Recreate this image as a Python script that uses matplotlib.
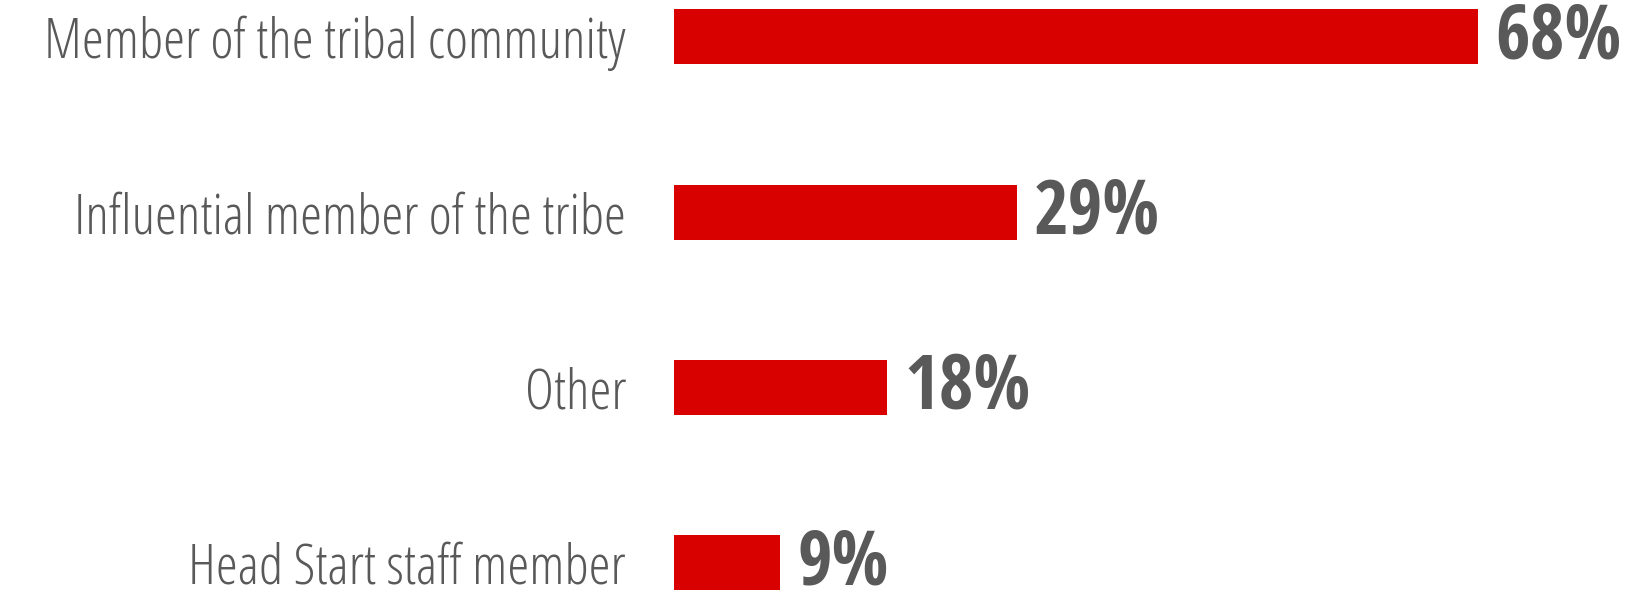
import matplotlib.pyplot as plt
from matplotlib import font_manager
from matplotlib.font_manager import FontProperties

categories = ['Member of the tribal community', 'Influential member of the tribe',
              'Other', 'Head Start staff member']
values = [68, 29, 18, 9]


def find_font(filename):
    for f in font_manager.fontManager.ttflist:
        if f.fname.endswith(filename):
            return f.fname
    return None


def main():
    light = find_font('OpenSans-CondLight.ttf')
    bold = find_font('OpenSans-CondBold.ttf')
    label_fp = FontProperties(fname=light, size=40) if light else FontProperties(family='DejaVu Sans', stretch='condensed', size=32)
    value_fp = FontProperties(fname=bold, size=54) if bold else FontProperties(family='DejaVu Sans', stretch='condensed', weight='bold', size=46)

    fig = plt.figure(figsize=(16.25, 5.9), dpi=100)
    ax = fig.add_axes([674 / 1625, 0, 1 - 674 / 1625, 1])

    pos = list(range(len(categories)))
    ax.barh(pos, values, height=0.314, color='#d90000')

    ax.set_xlim(0, 951 / 11.82)
    ax.set_ylim(3.156, -0.21)

    ax.set_yticks(pos)
    ax.set_yticklabels(categories, color='#595959', fontproperties=label_fp)
    ax.tick_params(axis='y', length=0, pad=34.5)
    ax.set_xticks([])
    for s in ax.spines.values():
        s.set_visible(False)

    for p, v in zip(pos, values):
        ax.annotate('{0}%'.format(v), (v, p), xytext=(12.5, -1.5), textcoords='offset points',
                    va='center', ha='left', color='#595959', fontproperties=value_fp)

    fig.savefig('out.png', dpi=100)
    plt.close(fig)


if __name__ == '__main__':
    main()
